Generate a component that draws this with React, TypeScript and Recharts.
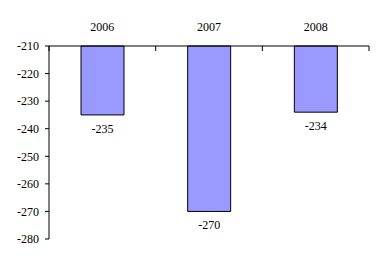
import React from "react";
import { BarChart, Bar, XAxis, YAxis, LabelList } from "recharts";

const categories = ["2006", "2007", "2008"];
const values = [-235, -270, -234];
const yTicks = [-280, -270, -260, -250, -240, -230, -220, -210];

const data = categories.map((c, i) => ({ year: c, value: values[i] }));

const FONT = '"Liberation Serif", "Times New Roman", serif';
const X_TICK_SIZE = 6;
const X_TICK_MARGIN = 9;
const BOUNDARY_TICK = 5;

const ValueLabel = (props: any) => {
  const { x, y, width, height, value } = props;
  const bottom = Math.max(Number(y), Number(y) + Number(height));
  return (
    <text
      x={Number(x) + Number(width) / 2}
      y={bottom + 18}
      textAnchor="middle"
      fontFamily={FONT}
      fontSize={12}
      fill="#000"
    >
      {value}
    </text>
  );
};

const CategoryTick = (props: any) => {
  const { x, y, payload, index, visibleTicksCount, width } = props;
  let half = payload && typeof payload.offset === "number" && payload.offset > 0 ? payload.offset : 0;
  if (!half) half = Number(width) / Number(visibleTicksCount) / 2;
  const axisY = Number(y) + X_TICK_SIZE + X_TICK_MARGIN;
  const isLast = index === visibleTicksCount - 1;
  return (
    <g>
      <text x={x} y={y} textAnchor="middle" fontFamily={FONT} fontSize={12} fill="#000">
        {payload.value}
      </text>
      <line x1={x - half} x2={x - half} y1={axisY} y2={axisY + BOUNDARY_TICK} stroke="#000" />
      {isLast && (
        <line x1={x + half} x2={x + half} y1={axisY} y2={axisY + BOUNDARY_TICK} stroke="#000" />
      )}
    </g>
  );
};

export default function App() {
  return (
    <BarChart
      width={376}
      height={257}
      data={data}
      margin={{ top: 0, right: 15, bottom: 26, left: 0 }}
      barCategoryGap="30%"
      baseValue="dataMax"
    >
      <XAxis
        dataKey="year"
        orientation="top"
        height={38}
        axisLine={{ stroke: "#000" }}
        tickLine={false}
        tickSize={X_TICK_SIZE}
        tickMargin={X_TICK_MARGIN}
        interval={0}
        tick={CategoryTick}
      />
      <YAxis
        domain={[-280, -210]}
        ticks={yTicks}
        width={41}
        axisLine={{ stroke: "#000" }}
        tickLine={{ stroke: "#000" }}
        tickSize={4}
        tickMargin={6}
        interval={0}
        tick={{ fill: "#000", fontFamily: FONT, fontSize: 12 }}
      />
      <Bar dataKey="value" fill="#9999FF" stroke="#000" strokeWidth={1} isAnimationActive={false}>
        <LabelList dataKey="value" content={ValueLabel} />
      </Bar>
    </BarChart>
  );
}
